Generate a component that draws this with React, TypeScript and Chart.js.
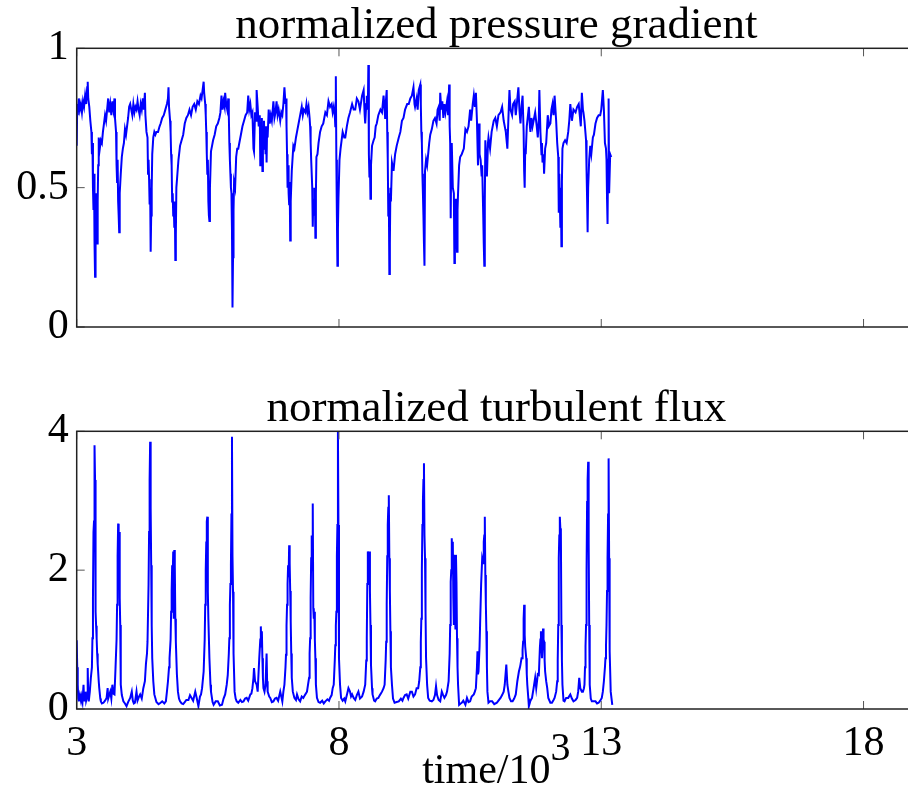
import React, { useEffect, useRef } from "react";
import { Chart, registerables } from "chart.js";

Chart.register(...registerables);

// ---------- data ----------
const xMin = 3;
const xMax = 19;
const xTickValues = [3, 8, 13, 18];
const xTickLabels = ["3", "8", "13", "18"];

const pressureTitle = "normalized pressure gradient";
const pressureTicks = [0, 0.5, 1];
const pressureTickLabels = ["0", "0.5", "1"];

const fluxTitle = "normalized turbulent flux";
const fluxTicks = [0, 2, 4];
const fluxTickLabels = ["0", "2", "4"];

const xLabelBase = "time/10";
const xLabelSup = "3";

// [time/10^3, normalized pressure gradient]
const pressurePoints: number[][] = [
  [3.00,0.65],[3.01,0.80],[3.02,0.76],[3.04,0.82],[3.06,0.78],[3.08,0.80],[3.10,0.77],[3.12,0.81],[3.14,0.79],[3.16,0.83],[3.18,0.80],[3.20,0.86],[3.21,0.88],[3.22,0.82],[3.24,0.79],[3.26,0.74],[3.28,0.70],[3.29,0.62],[3.30,0.66],[3.31,0.50],[3.32,0.42],[3.33,0.55],[3.34,0.30],[3.35,0.18],[3.36,0.38],[3.37,0.48],[3.38,0.44],[3.39,0.30],[3.40,0.45],[3.41,0.58],[3.42,0.68],[3.44,0.64],[3.46,0.67],
  [3.48,0.66],[3.50,0.70],[3.52,0.73],[3.54,0.76],[3.56,0.74],[3.58,0.78],[3.60,0.82],[3.62,0.77],[3.64,0.80],[3.66,0.76],[3.68,0.81],[3.70,0.78],[3.72,0.82],[3.73,0.75],[3.75,0.70],[3.76,0.58],[3.77,0.52],[3.78,0.60],[3.79,0.45],[3.80,0.40],[3.81,0.34],[3.82,0.48],[3.84,0.55],[3.86,0.61],[3.88,0.64],[3.90,0.66],
  [3.92,0.71],[3.94,0.69],[3.96,0.72],[3.98,0.75],[4.00,0.79],[4.02,0.80],[4.04,0.78],[4.06,0.76],[4.08,0.80],[4.10,0.77],[4.12,0.79],[4.14,0.78],[4.16,0.81],[4.18,0.78],[4.20,0.76],[4.22,0.80],[4.24,0.78],[4.26,0.82],[4.28,0.78],[4.30,0.84],[4.31,0.76],[4.33,0.70],[4.35,0.68],[4.36,0.55],[4.37,0.60],[4.38,0.53],[4.39,0.44],[4.40,0.50],[4.41,0.27],[4.42,0.40],[4.43,0.50],[4.44,0.62],[4.46,0.68],[4.48,0.70],[4.50,0.69],
  [4.52,0.70],[4.55,0.70],[4.58,0.72],[4.60,0.73],[4.63,0.75],[4.66,0.76],[4.69,0.78],[4.72,0.80],[4.74,0.82],[4.75,0.86],[4.76,0.79],[4.78,0.74],[4.79,0.70],[4.80,0.62],[4.81,0.58],[4.82,0.45],[4.83,0.48],[4.84,0.40],[4.85,0.44],[4.86,0.36],[4.87,0.45],[4.88,0.24],[4.89,0.33],[4.90,0.50],[4.92,0.55],[4.94,0.60],[4.97,0.65],[5.00,0.67],[5.03,0.69],[5.06,0.73],[5.09,0.75],[5.12,0.76],[5.15,0.78],[5.18,0.76],[5.21,0.79],[5.24,0.80],[5.27,0.78],[5.30,0.81],[5.33,0.80],[5.36,0.83],[5.38,0.82],[5.40,0.85],[5.42,0.88],[5.43,0.84],[5.45,0.80],[5.46,0.76],[5.47,0.70],[5.48,0.62],[5.49,0.55],[5.50,0.60],[5.51,0.45],[5.52,0.40],[5.53,0.38],[5.54,0.50],[5.56,0.63],[5.58,0.65],[5.60,0.67],[5.63,0.69],[5.66,0.72],[5.69,0.73],[5.72,0.75],[5.74,0.77],[5.76,0.83],[5.78,0.78],[5.80,0.81],[5.82,0.79],[5.83,0.84],[5.85,0.80],[5.87,0.78],[5.89,0.82],[5.90,0.76],[5.91,0.66],[5.92,0.60],[5.93,0.55],[5.94,0.50],[5.95,0.48],[5.96,0.35],[5.97,0.07],[5.98,0.25],[5.99,0.42],[6.00,0.52],[6.02,0.50],[6.04,0.61],[6.06,0.64],[6.08,0.64],[6.10,0.66],[6.13,0.69],[6.16,0.72],[6.19,0.74],[6.22,0.76],[6.25,0.77],[6.27,0.83],[6.29,0.78],[6.31,0.80],[6.33,0.76],[6.35,0.77],[6.37,0.64],[6.38,0.63],[6.40,0.77],[6.42,0.74],[6.43,0.85],[6.45,0.79],[6.47,0.72],
  [6.49,0.76],[6.50,0.58],[6.51,0.72],[6.52,0.66],[6.53,0.75],[6.54,0.56],[6.55,0.70],[6.56,0.64],[6.57,0.74],[6.58,0.66],[6.59,0.72],[6.60,0.62],[6.61,0.70],[6.62,0.59],[6.63,0.72],[6.64,0.68],[6.66,0.78],[6.68,0.73],[6.70,0.76],[6.72,0.74],[6.75,0.81],[6.77,0.75],[6.79,0.77],[6.81,0.81],[6.83,0.76],[6.85,0.78],[6.88,0.74],[6.90,0.77],[6.92,0.76],[6.94,0.80],[6.96,0.86],[6.98,0.80],[6.99,0.82],[7.00,0.72],[7.01,0.62],[7.02,0.50],[7.03,0.58],[7.04,0.48],[7.05,0.44],[7.06,0.52],[7.07,0.31],[7.08,0.45],[7.10,0.56],[7.12,0.62],[7.13,0.65],[7.15,0.64],[7.18,0.68],[7.20,0.70],[7.23,0.73],[7.26,0.76],[7.29,0.79],[7.31,0.76],[7.33,0.78],[7.36,0.77],[7.38,0.80],[7.40,0.77],[7.42,0.79],[7.44,0.75],[7.45,0.72],[7.46,0.66],[7.47,0.60],[7.48,0.60],[7.49,0.50],[7.50,0.36],[7.51,0.46],[7.52,0.40],[7.53,0.41],[7.54,0.50],[7.55,0.32],[7.56,0.48],[7.57,0.61],[7.59,0.62],[7.61,0.66],[7.64,0.70],[7.67,0.72],[7.70,0.73],[7.74,0.77],[7.77,0.76],[7.80,0.81],[7.83,0.79],[7.86,0.80],[7.88,0.77],[7.90,0.79],[7.92,0.76],[7.93,0.72],[7.94,0.90],[7.95,0.60],[7.96,0.40],[7.97,0.22],[7.98,0.35],[7.99,0.46],[8.01,0.60],[8.03,0.64],[8.05,0.67],[8.07,0.70],[8.10,0.68],[8.12,0.68],[8.15,0.72],[8.18,0.75],[8.21,0.77],[8.25,0.80],[8.28,0.78],[8.31,0.78],[8.34,0.82],[8.37,0.81],[8.40,0.78],[8.44,0.83],[8.47,0.85],[8.49,0.76],[8.50,0.73],[8.52,0.80],[8.53,0.83],[8.55,0.78],[8.56,0.94],[8.57,0.62],[8.58,0.54],[8.59,0.60],[8.60,0.46],[8.61,0.58],[8.63,0.65],[8.66,0.67],[8.68,0.68],[8.70,0.72],[8.72,0.73],[8.75,0.76],[8.79,0.78],[8.82,0.77],[8.85,0.83],[8.87,0.78],[8.88,0.75],[8.89,0.80],[8.91,0.85],[8.92,0.70],[8.93,0.60],[8.94,0.40],[8.95,0.48],[8.96,0.19],[8.97,0.30],[8.98,0.50],[8.99,0.45],[9.01,0.59],[9.03,0.57],[9.04,0.56],[9.07,0.62],[9.10,0.65],[9.14,0.68],[9.17,0.70],[9.20,0.74],[9.23,0.75],[9.26,0.78],[9.30,0.80],[9.33,0.80],[9.36,0.82],[9.39,0.83],[9.42,0.86],[9.44,0.80],[9.45,0.79],[9.48,0.82],[9.50,0.78],[9.52,0.85],[9.55,0.87],[9.56,0.80],[9.57,0.70],[9.58,0.66],[9.59,0.55],[9.60,0.48],[9.61,0.40],[9.62,0.30],[9.63,0.22],[9.64,0.56],[9.66,0.60],[9.68,0.58],[9.70,0.62],[9.72,0.66],[9.74,0.69],[9.77,0.71],[9.80,0.74],[9.83,0.75],[9.86,0.73],[9.88,0.78],[9.90,0.79],
  [9.92,0.74],[9.93,0.84],[9.95,0.78],[9.97,0.81],[9.99,0.75],[10.01,0.80],[10.03,0.77],[10.06,0.81],[10.08,0.76],[10.10,0.87],[10.11,0.72],[10.12,0.66],[10.13,0.39],[10.14,0.62],[10.15,0.66],[10.17,0.50],[10.19,0.48],[10.20,0.23],[10.21,0.40],[10.23,0.46],[10.24,0.35],[10.25,0.27],[10.26,0.42],[10.27,0.48],[10.29,0.58],[10.31,0.61],[10.34,0.62],[10.38,0.64],[10.41,0.71],[10.44,0.70],[10.47,0.72],[10.50,0.78],[10.52,0.74],[10.55,0.80],[10.57,0.83],[10.59,0.79],[10.61,0.84],[10.63,0.74],[10.65,0.58],[10.66,0.70],[10.67,0.73],[10.68,0.62],[10.70,0.60],[10.72,0.54],[10.73,0.58],[10.75,0.40],[10.76,0.30],[10.77,0.22],[10.78,0.45],[10.79,0.67],[10.81,0.58],[10.82,0.54],[10.84,0.66],[10.85,0.68],[10.88,0.64],[10.91,0.70],[10.95,0.74],[10.98,0.75],[11.01,0.72],[11.04,0.76],[11.08,0.77],[11.11,0.79],[11.14,0.74],[11.17,0.71],[11.18,0.70],[11.21,0.64],[11.23,0.75],[11.25,0.85],[11.27,0.78],[11.30,0.76],[11.32,0.80],[11.35,0.81],[11.37,0.76],[11.39,0.80],[11.42,0.86],[11.44,0.78],[11.46,0.73],[11.48,0.79],[11.50,0.83],[11.52,0.70],[11.53,0.56],[11.54,0.50],[11.55,0.64],[11.56,0.62],[11.58,0.72],[11.62,0.79],[11.64,0.72],[11.65,0.70],[11.67,0.75],[11.69,0.72],[11.72,0.75],[11.74,0.77],[11.77,0.72],[11.79,0.68],[11.81,0.75],[11.82,0.85],[11.84,0.70],[11.86,0.62],[11.87,0.66],[11.88,0.59],[11.90,0.62],[11.91,0.55],[11.93,0.64],[11.95,0.66],[11.98,0.76],[12.00,0.72],[12.03,0.73],[12.05,0.78],[12.07,0.80],[12.09,0.76],[12.11,0.83],[12.13,0.77],[12.14,0.74],[12.16,0.66],[12.18,0.61],[12.19,0.41],[12.20,0.55],[12.22,0.36],[12.23,0.50],[12.24,0.29],[12.25,0.52],[12.26,0.64],[12.28,0.66],[12.31,0.67],[12.34,0.66],[12.37,0.70],[12.39,0.74],[12.41,0.80],[12.43,0.76],[12.44,0.74],[12.47,0.78],[12.51,0.77],[12.54,0.79],[12.57,0.80],[12.59,0.76],[12.61,0.72],[12.63,0.84],[12.65,0.78],[12.66,0.77],[12.68,0.74],[12.71,0.67],[12.72,0.56],[12.73,0.46],[12.74,0.34],[12.75,0.50],[12.77,0.60],[12.79,0.65],[12.81,0.62],[12.84,0.68],[12.86,0.69],[12.89,0.73],[12.92,0.75],[12.95,0.76],[12.98,0.76],[13.00,0.78],[13.03,0.85],[13.05,0.78],[13.07,0.66],[13.09,0.64],[13.10,0.60],[13.11,0.46],[13.12,0.37],[13.13,0.60],[13.14,0.82],[13.15,0.48],[13.17,0.62],[13.19,0.61]
];

// [time/10^3, normalized turbulent flux]
const fluxPoints: number[][] = [
  [3.00,0.99],[3.01,0.60],[3.02,0.35],[3.03,0.15],[3.04,0.11],[3.06,0.20],[3.08,0.12],[3.09,0.18],[3.11,0.10],[3.13,0.35],[3.14,0.15],[3.15,0.11],[3.16,0.22],[3.17,0.25],[3.18,0.12],[3.20,0.18],[3.21,0.59],[3.22,0.20],[3.23,0.11],[3.25,0.25],[3.27,0.45],[3.29,0.60],[3.30,1.02],[3.31,1.60],[3.32,2.55],[3.33,2.70],[3.34,3.80],[3.35,3.30],[3.36,1.40],[3.37,1.20],[3.38,1.02],[3.39,0.80],[3.40,0.65],[3.42,0.40],[3.43,0.30],[3.45,0.15],[3.46,0.11],[3.48,0.08],[3.51,0.09],[3.54,0.12],[3.57,0.16],[3.59,0.30],[3.60,0.15],[3.62,0.20],[3.64,0.25],[3.66,0.15],[3.68,0.35],[3.70,0.22],[3.72,0.21],[3.74,0.59],[3.76,1.00],[3.77,1.50],[3.78,2.20],[3.79,2.67],[3.80,2.40],[3.81,2.55],[3.82,1.60],[3.83,1.21],[3.84,0.35],[3.86,0.20],[3.89,0.11],[3.92,0.08],[3.95,0.04],[3.98,0.10],[4.02,0.16],[4.05,0.25],[4.07,0.12],[4.09,0.08],[4.11,0.09],[4.14,0.25],[4.16,0.12],[4.19,0.18],[4.21,0.21],[4.24,0.15],[4.27,0.30],[4.30,0.40],[4.32,0.65],[4.34,0.80],[4.35,0.97],[4.37,1.80],[4.38,2.55],[4.39,3.30],[4.40,3.85],[4.41,2.90],[4.42,2.07],[4.43,1.20],[4.44,0.73],[4.46,0.40],[4.48,0.21],[4.52,0.10],[4.56,0.07],[4.60,0.09],[4.63,0.11],[4.67,0.08],[4.70,0.11],[4.72,0.25],[4.74,0.40],[4.76,0.60],[4.77,0.73],[4.79,1.00],[4.80,1.40],[4.81,1.70],[4.82,2.07],[4.83,1.90],[4.84,2.27],[4.85,1.30],[4.86,2.29],[4.87,2.07],[4.88,1.30],[4.89,0.97],[4.91,0.50],[4.93,0.25],[4.95,0.15],[4.97,0.11],[5.00,0.08],[5.03,0.07],[5.06,0.10],[5.09,0.13],[5.13,0.13],[5.16,0.20],[5.19,0.16],[5.22,0.12],[5.26,0.25],[5.29,0.15],[5.32,0.04],[5.35,0.18],[5.37,0.21],[5.39,0.30],[5.42,0.54],[5.44,1.00],[5.45,1.50],[5.46,2.00],[5.47,2.40],[5.48,2.70],[5.49,2.77],[5.50,1.69],[5.51,1.30],[5.53,0.73],[5.55,0.35],[5.56,0.25],[5.59,0.10],[5.61,0.06],[5.65,0.11],[5.69,0.11],[5.73,0.05],[5.77,0.06],[5.80,0.15],[5.83,0.21],[5.86,0.35],[5.88,0.49],[5.90,0.80],[5.91,1.02],[5.92,1.50],[5.93,1.80],[5.94,2.07],[5.95,2.80],[5.96,3.92],[5.97,2.20],[5.98,1.69],[5.99,0.80],[6.01,0.25],[6.03,0.15],[6.05,0.11],[6.08,0.09],[6.12,0.13],[6.15,0.10],[6.18,0.11],[6.21,0.15],[6.24,0.16],[6.27,0.12],[6.31,0.21],[6.33,0.22],[6.35,0.30],[6.37,0.45],[6.38,0.59],[6.40,0.40],[6.43,0.35],[6.45,0.25],
  [6.48,0.73],[6.50,1.00],[6.51,1.19],[6.52,0.90],[6.53,1.12],[6.54,0.73],[6.55,0.45],[6.56,0.30],[6.58,0.25],[6.60,0.35],[6.62,0.80],[6.63,0.40],[6.64,0.25],[6.67,0.18],[6.69,0.16],[6.72,0.10],[6.75,0.11],[6.78,0.15],[6.81,0.16],[6.84,0.12],[6.88,0.25],[6.90,0.18],[6.92,0.11],[6.94,0.25],[6.96,0.35],[6.98,0.60],[6.99,0.78],[7.00,1.20],[7.01,1.50],[7.02,1.80],[7.03,2.07],[7.04,1.90],[7.05,2.36],[7.06,2.10],[7.07,1.70],[7.08,1.26],[7.09,0.80],[7.10,0.45],[7.12,0.25],[7.15,0.16],[7.18,0.13],[7.20,0.21],[7.23,0.14],[7.26,0.11],[7.29,0.18],[7.32,0.16],[7.35,0.20],[7.39,0.25],[7.41,0.35],[7.43,0.45],[7.44,0.80],[7.45,1.02],[7.46,1.60],[7.47,2.17],[7.48,2.50],[7.49,2.00],[7.50,2.96],[7.51,1.45],[7.52,1.30],[7.53,1.40],[7.54,1.00],[7.55,0.73],[7.56,0.35],[7.58,0.16],[7.61,0.10],[7.64,0.09],[7.68,0.12],[7.71,0.08],[7.74,0.11],[7.78,0.14],[7.81,0.12],[7.83,0.16],[7.86,0.20],[7.88,0.30],[7.90,0.35],[7.92,0.70],[7.93,0.92],[7.94,1.20],[7.95,1.40],[7.96,2.20],[7.97,2.65],[7.98,3.99],[7.99,2.65],[8.00,0.73],[8.02,0.35],[8.04,0.16],[8.07,0.12],[8.10,0.15],[8.12,0.11],[8.15,0.20],[8.18,0.30],[8.21,0.25],[8.23,0.18],[8.25,0.21],[8.28,0.16],[8.31,0.13],[8.34,0.20],[8.37,0.25],[8.40,0.15],[8.44,0.18],[8.47,0.25],[8.50,0.35],[8.52,0.70],[8.53,1.02],[8.54,1.80],[8.55,2.27],[8.56,2.20],[8.57,1.90],[8.58,2.27],[8.59,1.70],[8.60,1.21],[8.61,0.64],[8.63,0.30],[8.64,0.21],[8.67,0.12],[8.69,0.11],[8.72,0.15],[8.75,0.16],[8.78,0.20],[8.82,0.25],[8.85,0.30],[8.87,0.35],[8.89,0.70],[8.90,0.97],[8.91,1.50],[8.92,2.20],[8.93,2.65],[8.94,2.90],[8.95,3.08],[8.96,2.17],[8.97,1.70],[8.98,1.12],[8.99,0.60],[9.01,0.35],[9.03,0.15],[9.06,0.09],[9.10,0.10],[9.14,0.11],[9.18,0.15],[9.21,0.12],[9.23,0.16],[9.26,0.20],[9.29,0.21],[9.32,0.15],[9.36,0.25],[9.39,0.25],[9.42,0.18],[9.45,0.21],[9.48,0.30],[9.51,0.30],[9.53,0.40],[9.55,0.60],[9.56,0.97],[9.57,1.30],[9.58,2.00],[9.59,2.65],[9.60,3.00],[9.61,3.30],[9.62,3.54],[9.63,2.50],[9.64,2.17],[9.65,1.40],[9.66,0.73],[9.68,0.35],[9.70,0.16],[9.73,0.12],[9.77,0.11],[9.80,0.13],[9.83,0.20],[9.85,0.33],[9.87,0.20],[9.90,0.13],
  [9.93,0.11],[9.96,0.25],[9.98,0.21],[10.01,0.16],[10.04,0.20],[10.06,0.25],[10.09,0.40],[10.11,0.80],[10.12,1.21],[10.13,1.83],[10.14,2.00],[10.15,2.46],[10.16,2.10],[10.17,2.41],[10.18,1.60],[10.19,1.21],[10.20,2.22],[10.21,1.40],[10.22,1.16],[10.23,2.22],[10.24,1.83],[10.25,1.02],[10.26,0.60],[10.27,0.35],[10.29,0.06],[10.32,0.08],[10.34,0.09],[10.37,0.12],[10.41,0.06],[10.44,0.16],[10.47,0.10],[10.50,0.11],[10.53,0.18],[10.57,0.21],[10.59,0.25],[10.61,0.30],[10.63,0.60],[10.64,0.83],[10.65,0.50],[10.66,0.54],[10.68,0.90],[10.69,1.21],[10.71,1.80],[10.73,2.17],[10.75,2.10],[10.76,2.41],[10.77,2.50],[10.78,2.77],[10.79,1.93],[10.80,1.50],[10.81,1.12],[10.82,0.60],[10.83,0.25],[10.85,0.09],[10.88,0.11],[10.92,0.11],[10.96,0.07],[11.01,0.09],[11.04,0.12],[11.08,0.16],[11.11,0.20],[11.14,0.25],[11.16,0.35],[11.17,0.45],[11.19,0.64],[11.21,0.35],[11.23,0.25],[11.25,0.16],[11.28,0.11],[11.31,0.11],[11.34,0.15],[11.37,0.21],[11.40,0.40],[11.43,0.54],[11.45,0.60],[11.46,0.64],[11.48,0.73],[11.49,0.73],[11.50,0.85],[11.51,0.97],[11.52,1.30],[11.53,1.50],[11.54,1.07],[11.55,0.90],[11.57,0.73],[11.58,0.50],[11.59,0.35],[11.61,0.15],[11.62,0.04],[11.65,0.12],[11.68,0.16],[11.71,0.30],[11.74,0.45],[11.76,0.30],[11.77,0.30],[11.79,0.50],[11.81,0.49],[11.83,0.88],[11.84,1.00],[11.85,1.12],[11.86,0.90],[11.87,0.73],[11.88,0.95],[11.89,1.16],[11.90,1.00],[11.91,0.97],[11.92,0.70],[11.93,0.54],[11.95,0.40],[11.97,0.30],[11.99,0.16],[12.03,0.09],[12.06,0.09],[12.09,0.13],[12.11,0.16],[12.14,0.25],[12.16,0.40],[12.17,0.70],[12.18,1.21],[12.19,2.17],[12.20,2.50],[12.21,2.77],[12.22,2.60],[12.23,2.55],[12.24,1.21],[12.25,0.70],[12.26,0.35],[12.28,0.12],[12.30,0.11],[12.33,0.16],[12.37,0.16],[12.41,0.21],[12.44,0.15],[12.47,0.11],[12.51,0.13],[12.54,0.16],[12.56,0.25],[12.58,0.45],[12.60,0.30],[12.61,0.30],[12.63,0.25],[12.65,0.25],[12.67,0.30],[12.68,0.35],[12.69,0.60],[12.70,0.90],[12.71,1.21],[12.72,2.00],[12.73,2.98],[12.74,3.30],[12.75,3.56],[12.76,2.40],[12.77,1.21],[12.78,0.35],[12.80,0.15],[12.82,0.11],[12.86,0.11],[12.89,0.11],[12.92,0.08],[12.95,0.09],[12.98,0.12],[13.01,0.16],[13.03,0.25],[13.05,0.40],[13.07,0.60],[13.08,0.73],[13.09,0.90],[13.10,1.21],[13.11,1.70],[13.12,2.17],[13.13,2.80],[13.14,3.61],[13.15,2.17],[13.16,0.83],[13.18,0.25],[13.21,0.06]
];

// ---------- styling ----------
const SERIF = '"Liberation Serif", "Times New Roman", serif';
const LINE_COLOR = "#0000ff";
const CANVAS_W = 940;

const labelFor = (values: number[], labels: string[]) => (v: any) => {
  const i = values.findIndex((t) => Math.abs(t - Number(v)) < 1e-9);
  return i >= 0 ? labels[i] : "";
};

const matlabDecor = {
  id: "matlabDecor",
  afterDraw(chart: any, _args: any, opts: any) {
    const { ctx, chartArea } = chart;
    const { left, right, top, bottom } = chartArea;
    const xs = chart.scales.x;
    const ys = chart.scales.y;
    ctx.save();
    // inward tick marks
    ctx.strokeStyle = "#555";
    ctx.lineWidth = 1;
    ctx.beginPath();
    xs.ticks.forEach((t: any) => {
      const px = xs.getPixelForValue(t.value);
      ctx.moveTo(px, bottom);
      ctx.lineTo(px, bottom - 8);
      ctx.moveTo(px, top);
      ctx.lineTo(px, top + 8);
    });
    ys.ticks.forEach((t: any) => {
      const py = ys.getPixelForValue(t.value);
      ctx.moveTo(left, py);
      ctx.lineTo(left + 8, py);
      ctx.moveTo(right, py);
      ctx.lineTo(right - 8, py);
    });
    ctx.stroke();
    // box
    ctx.strokeStyle = "#222";
    ctx.lineWidth = 1.5;
    ctx.strokeRect(left, top, right - left, bottom - top);
    // title
    ctx.fillStyle = "#000";
    ctx.textAlign = "center";
    ctx.textBaseline = "alphabetic";
    ctx.font = `45px ${SERIF}`;
    ctx.fillText(opts.title, (left + right) / 2, top - 10);
    // x label with superscript
    if (opts.xLabel) {
      ctx.textAlign = "left";
      ctx.font = `42px ${SERIF}`;
      const wBase = ctx.measureText(xLabelBase).width;
      ctx.font = `40px ${SERIF}`;
      const wSup = ctx.measureText(xLabelSup).width;
      const x0 = (left + right) / 2 - (wBase + wSup) / 2;
      ctx.font = `42px ${SERIF}`;
      ctx.fillText(xLabelBase, x0, bottom + 74);
      ctx.font = `40px ${SERIF}`;
      ctx.fillText(xLabelSup, x0 + wBase, bottom + 51);
    }
    ctx.restore();
  },
};

type PanelProps = {
  points: number[][];
  yTicks: number[];
  yLabels: string[];
  title: string;
  showX: boolean;
  top: number;
  height: number;
  xAxisHeight: number;
};

function Panel({ points, yTicks, yLabels, title, showX, top, height, xAxisHeight }: PanelProps) {
  const ref = useRef<HTMLCanvasElement>(null);
  useEffect(() => {
    const chart = new Chart(ref.current as HTMLCanvasElement, {
      type: "line",
      data: {
        datasets: [
          {
            data: points.map((p) => ({ x: p[0], y: p[1] })),
            borderColor: LINE_COLOR,
            borderWidth: 2,
            pointRadius: 0,
            tension: 0,
            fill: false,
          },
        ],
      },
      options: {
        animation: false,
        responsive: false,
        devicePixelRatio: 1,
        layout: { autoPadding: false, padding: { top: 48.3, left: 0, right: 24, bottom: 0 } },
        plugins: {
          legend: { display: false },
          tooltip: { enabled: false },
          title: { display: false },
          matlabDecor: { title, xLabel: showX },
        } as any,
        scales: {
          x: {
            type: "linear",
            min: xMin,
            max: xMax,
            afterBuildTicks: (s: any) => {
              s.ticks = xTickValues.map((v) => ({ value: v }));
            },
            afterFit: (s: any) => {
              s.height = xAxisHeight;
            },
            grid: { display: false, drawTicks: false },
            border: { display: false },
            ticks: {
              display: showX,
              autoSkip: false,
              maxRotation: 0,
              padding: 10,
              color: "#000",
              font: { family: SERIF, size: 42 },
              callback: labelFor(xTickValues, xTickLabels),
            },
          },
          y: {
            type: "linear",
            min: yTicks[0],
            max: yTicks[yTicks.length - 1],
            afterBuildTicks: (s: any) => {
              s.ticks = yTicks.map((v) => ({ value: v }));
            },
            afterFit: (s: any) => {
              s.width = 76.7;
            },
            grid: { display: false, drawTicks: false },
            border: { display: false },
            ticks: {
              autoSkip: false,
              padding: 8,
              color: "#000",
              font: { family: SERIF, size: 42 },
              callback: labelFor(yTicks, yLabels),
            },
          },
        },
      } as any,
      plugins: [matlabDecor],
    });
    return () => chart.destroy();
  }, []);
  return (
    <div style={{ position: "absolute", left: 0, top, width: CANVAS_W, height }}>
      <canvas ref={ref} width={CANVAS_W} height={height} style={{ width: CANVAS_W, height, display: "block" }} />
    </div>
  );
}

export default function App() {
  return (
    <div
      style={{
        position: "absolute",
        left: 0,
        top: 0,
        width: 908,
        height: 789,
        overflow: "hidden",
        background: "#fff",
      }}
    >
      <Panel
        points={pressurePoints}
        yTicks={pressureTicks}
        yLabels={pressureTickLabels}
        title={pressureTitle}
        showX={false}
        top={0}
        height={372.3}
        xAxisHeight={45}
      />
      <Panel
        points={fluxPoints}
        yTicks={fluxTicks}
        yLabels={fluxTickLabels}
        title={fluxTitle}
        showX={true}
        top={382.7}
        height={406.3}
        xAxisHeight={80}
      />
    </div>
  );
}
